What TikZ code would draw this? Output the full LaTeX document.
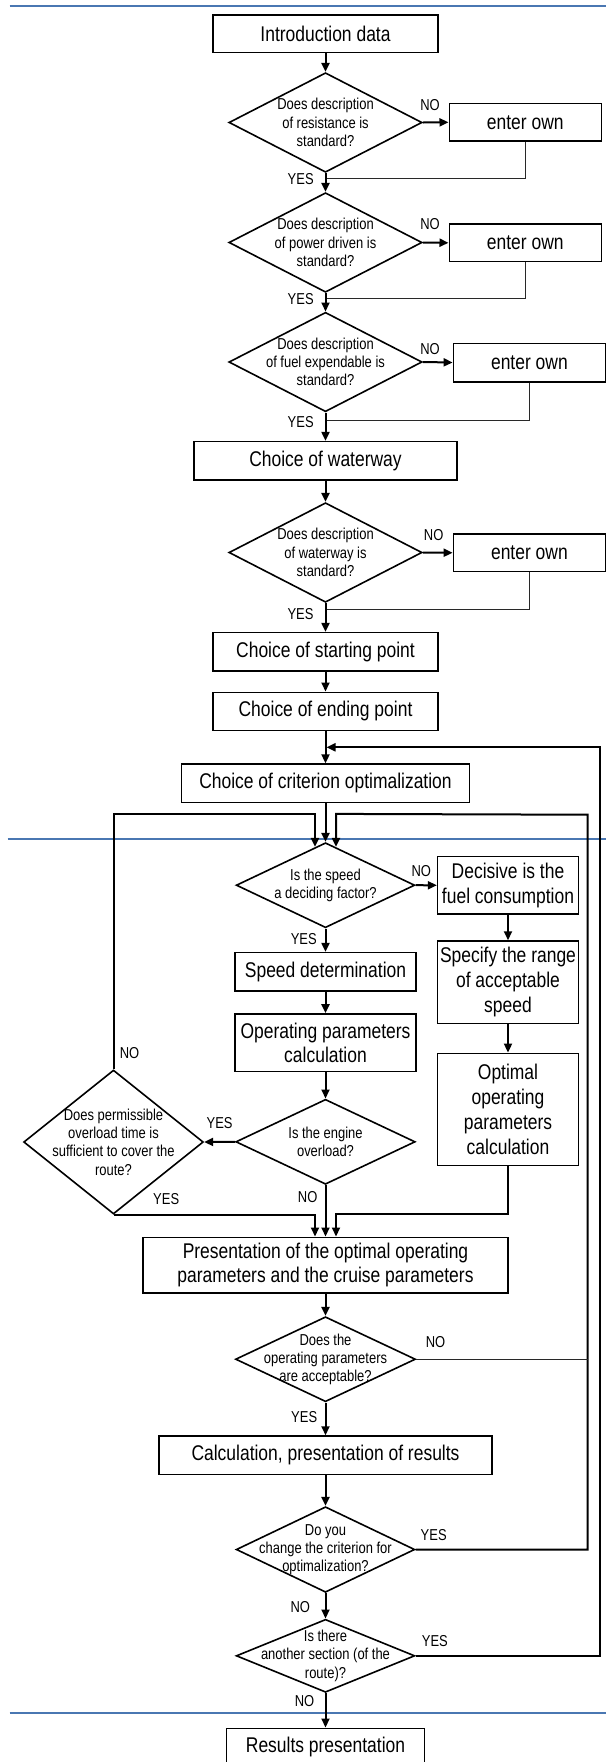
\documentclass[tikz,border=0pt]{standalone}
\usepackage{fontspec}
\setmainfont{Liberation Sans}[FakeStretch=0.82]
\usetikzlibrary{arrows.meta,shapes.geometric,calc}
\definecolor{rulecol}{RGB}{74,119,178}
\definecolor{thincol}{RGB}{40,40,40}
\begin{document}
\begin{tikzpicture}[x=1pt,y=-1pt,
  box/.style={draw, line width=1.6pt, inner sep=0pt, align=center,
    font=\fontsize{21.3}{24.8}\selectfont},
  dia/.style={draw, diamond, line width=1.6pt, inner sep=0pt},
  dtxt/.style={align=center, inner sep=0pt, font=\fontsize{15.8}{18.3}\selectfont},
  lab/.style={inner sep=0pt, font=\fontsize{15.8}{18}\selectfont},
  arr/.style={line width=2pt, -{Triangle[length=9pt,width=8pt]}},
  thinln/.style={line width=1pt, draw=thincol},
  blueline/.style={draw=rulecol, line width=2pt}]
\useasboundingbox (0,0) rectangle (606,1762);

% blue rules
\draw[blueline] (9.7,5.7) -- (606,5.7);
\draw[blueline] (7.7,839.3) -- (606,839.3);
\draw[blueline] (9.7,1713.3) -- (606,1713.3);

% nodes
\node[box, minimum width=225.4, minimum height=37.7] (intro) at (325.5,33.8) {Introduction data};
\node[dia, minimum width=193.2, minimum height=99.6,
  label={[dtxt]center:{Does description\\of resistance is\\standard?}}] (d1) at (325.5,122.5) {};
\node[box, minimum width=152, minimum height=37.7] (e1) at (525.3,122.3) {enter own};
\node[dia, minimum width=193.2, minimum height=99.6,
  label={[dtxt]center:{Does description\\of power driven is\\standard?}}] (d2) at (325.5,242.5) {};
\node[box, minimum width=152, minimum height=37.7] (e2) at (525.3,242.8) {enter own};
\node[dia, minimum width=193.2, minimum height=99.4,
  label={[dtxt]center:{Does description\\of fuel expendable is\\standard?}}] (d3) at (325.5,362) {};
\node[box, minimum width=152, minimum height=38.4] (e3) at (529.4,362.5) {enter own};
\node[box, minimum width=263, minimum height=38.3] (way) at (325.5,460.8) {Choice of waterway};
\node[dia, minimum width=193.2, minimum height=99.6,
  label={[dtxt]center:{Does description\\of waterway is\\standard?}}] (d4) at (325.5,552.5) {};
\node[box, minimum width=152, minimum height=37.7] (e4) at (529.4,552.8) {enter own};
\node[box, minimum width=225.4, minimum height=38.3] (start) at (325.5,651.8) {Choice of starting point};
\node[box, minimum width=225.4, minimum height=38] (end) at (325.5,711.3) {Choice of ending point};
\node[box, minimum width=288, minimum height=38.4] (crit) at (325.5,783.3) {Choice of criterion optimalization};
\node[dia, minimum width=178.6, minimum height=85,
  label={[dtxt]center:{Is the speed\\a deciding factor?}}] (d5) at (325.5,885.2) {};
\node[box, minimum width=140.7, minimum height=57.3] (dec) at (508,885.3) {Decisive is the\\fuel consumption};
\node[box, minimum width=181, minimum height=38.3] (sd) at (325.5,971.8) {Speed determination};
\node[box, minimum width=181, minimum height=57.7] (opc) at (325.5,1042.8) {Operating parameters\\calculation};
\node[box, minimum width=140.7, minimum height=82.3] (spec) at (508,982.2) {Specify the range\\of acceptable\\speed};
\node[box, minimum width=140.7, minimum height=112.3] (opt) at (508,1109.5) {Optimal\\operating\\parameters\\calculation};
\node[dia, minimum width=179.4, minimum height=85,
  label={[dtxt]center:{Is the engine\\overload?}}] (d6) at (325.5,1141.8) {};
\node[dia, minimum width=179.7, minimum height=144,
  label={[dtxt]center:{Does permissible\\overload time is\\sufficient to cover the\\route?}}] (d7) at (113.5,1142) {};
\node[box, minimum width=365, minimum height=55.4] (pres) at (325.5,1265) {Presentation of the optimal operating\\parameters and the cruise parameters};
\node[dia, minimum width=180, minimum height=85,
  label={[dtxt]center:{Does the\\operating parameters\\are acceptable?}}] (d8) at (325.5,1359.2) {};
\node[box, minimum width=332.8, minimum height=38.3] (calc) at (325.5,1455.2) {Calculation, presentation of results};
\node[dia, minimum width=178.6, minimum height=85.6,
  label={[dtxt]center:{Do you\\change the criterion for\\optimalization?}}] (d9) at (325.5,1549.5) {};
\node[dia, minimum width=178.6, minimum height=73,
  label={[dtxt]center:{Is there\\another section (of the\\route)?}}] (d10) at (325.5,1655.8) {};
\node[box, minimum width=198.3, minimum height=38] (res) at (325.5,1747.3) {Results presentation};

% helper coordinates
\coordinate (j1) at (325.5,178.3);
\coordinate (j2) at (325.5,298.3);
\coordinate (j3) at (325.5,420);
\coordinate (j4) at (325.5,609);
\coordinate (rr) at (587.6,814.7);
\coordinate (ro) at (600,747.3);

% upper part
\draw[arr] (intro.south) -- (d1.north);
\draw[arr] (d1.east) -- (e1.west);
\draw[thinln] (e1.south) |- (j1);
\draw[arr] (d1.south) -- (d2.north);
\draw[arr] (d2.east) -- (e2.west);
\draw[thinln] (e2.south) |- (j2);
\draw[arr] (d2.south) -- (d3.north);
\draw[arr] (d3.east) -- (e3.west);
\draw[thinln] (e3.south) |- (j3);
\draw[arr] (d3.south) -- (way.north);
\draw[arr] (way.south) -- (d4.north);
\draw[arr] (d4.east) -- (e4.west);
\draw[thinln] (e4.south) |- (j4);
\draw[arr] (d4.south) -- (start.north);
\draw[arr] (start.south) -- (end.south |- start.south) -- (end.north);
\draw[arr] (end.south) -- (crit.north);

% outer loop
\draw[arr] (d10.east) -| (ro) -- ($(ro -| end.south)+(1,0)$);

% into d5
\draw[arr] (crit.south) -- (d5.north);
\draw[arr] (d7.north) |- ($(d5.north)+(-10.5,-28)$) -- ($(d5.north)+(-10.5,5)$);
\draw[arr] (d9.east) -| (rr) -- ($(d5.north)+(10.5,-28)$) -- ($(d5.north)+(10.5,5)$);
\draw[thinln] (d8.east) -- (d8.east -| rr);

% middle part
\draw[arr] (d5.east) -- (dec.west);
\draw[arr] (d5.south) -- (sd.north);
\draw[arr] (sd.south) -- (opc.north);
\draw[arr] (opc.south) -- (d6.north);
\draw[arr] (dec.south) -- (spec.north);
\draw[arr] (spec.south) -- (opt.north);
\draw[arr] (d6.west) -- (d7.east);
\draw[arr] (d7.south) -| ($(pres.north)+(-10.5,0)$);
\draw[arr] (d6.south) -- (pres.north);
\draw[arr] (opt.south) |- ($(pres.north)+(10.5,-23)$) -- ($(pres.north)+(10.5,0)$);

% lower part
\draw[arr] (pres.south) -- (d8.north);
\draw[arr] (d8.south) -- (calc.north);
\draw[arr] (calc.south) -- (d9.north);
\draw[arr] (d9.south) -- (d10.north);
\draw[arr] (d10.south) -- (res.north);

% labels
\node[lab] (n1) at (430,105) {NO};
\node[lab] (n2) at (430,224.3) {NO};
\node[lab] (n3) at (430,349) {NO};
\node[lab] (n4) at (433.7,535) {NO};
\node[lab] (y1) at (300.7,179.5) {YES};
\node[lab] (y2) at (300.7,299) {YES};
\node[lab] (y3) at (300.7,422.3) {YES};
\node[lab] (y4) at (300.5,614) {YES};
\node[lab] (y5) at (303.8,939) {YES};
\node[lab] (n5) at (421.3,870.7) {NO};
\node[lab] (n7) at (129.5,1052.7) {NO};
\node[lab] (y6) at (219.6,1122.7) {YES};
\node[lab] (y7) at (166.2,1199) {YES};
\node[lab] (n6) at (307.7,1196.7) {NO};
\node[lab] (n8) at (435.6,1341.7) {NO};
\node[lab] (y8) at (304.2,1416.7) {YES};
\node[lab] (y9) at (433.7,1535) {YES};
\node[lab] (n9) at (300.3,1606.7) {NO};
\node[lab] (y10) at (434.9,1640.7) {YES};
\node[lab] (n10) at (304.6,1701) {NO};
\end{tikzpicture}
\end{document}
